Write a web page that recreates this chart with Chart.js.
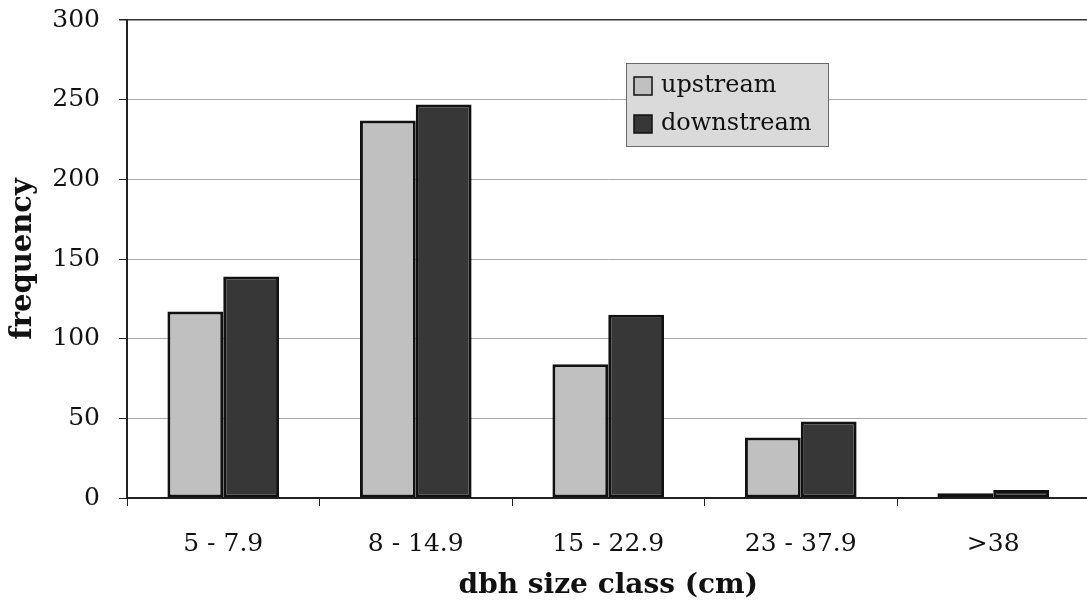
<!DOCTYPE html>
<html>
<head>
<meta charset="utf-8">
<script src="https://cdn.jsdelivr.net/npm/chart.js@4/dist/chart.umd.min.js"></script>
<style>
  html, body { margin: 0; padding: 0; background: #fff; overflow: hidden; }
  #wrap { width: 1092px; height: 611px; }
</style>
</head>
<body>
<div id="wrap"><canvas id="c" width="1092" height="611"></canvas></div>
<script>
// Tree diameter (dbh) size classes and counts per reach
const sizeClasses = ['5 - 7.9', '8 - 14.9', '15 - 22.9', '23 - 37.9', '>38'];
const upstream   = [117, 237, 84, 38, 3];
const downstream = [139, 247, 115, 48, 5];
const seriesNames = ['upstream', 'downstream'];
const yTicks = [0, 50, 100, 150, 200, 250, 300];

const SERIF = '"DejaVu Serif", "Liberation Serif", serif';
const upFill = '#c0c0c0';
const downFill = '#373737';

// Boxed legend drawn inside the plot area
const boxLegend = {
  id: 'boxLegend',
  afterDraw(chart, args, opts) {
    const ctx = chart.ctx;
    ctx.save();
    ctx.fillStyle = '#dadada';
    ctx.strokeStyle = '#6a6a6a';
    ctx.lineWidth = 1;
    ctx.fillRect(opts.x, opts.y, opts.w, opts.h);
    ctx.strokeRect(opts.x + 0.5, opts.y + 0.5, opts.w, opts.h);
    ctx.font = opts.font;
    ctx.textBaseline = 'middle';
    ctx.textAlign = 'left';
    chart.data.datasets.forEach((ds, i) => {
      const cy = opts.y + opts.firstRow + i * opts.rowGap;
      ctx.fillStyle = ds.backgroundColor;
      ctx.fillRect(opts.x + 8, cy - 9, 18, 18);
      ctx.strokeStyle = '#111';
      ctx.lineWidth = 1.5;
      ctx.strokeRect(opts.x + 8, cy - 9, 18, 18);
      ctx.fillStyle = '#111';
      ctx.fillText(ds.label, opts.x + 35, cy);
    });
    ctx.restore();
  }
};

new Chart(document.getElementById('c'), {
  type: 'bar',
  data: {
    labels: sizeClasses,
    datasets: [
      { label: seriesNames[0], data: upstream, backgroundColor: upFill,
        borderColor: '#111', borderWidth: 3, borderSkipped: false },
      { label: seriesNames[1], data: downstream, backgroundColor: downFill,
        borderColor: '#111', borderWidth: 3, borderSkipped: false }
    ]
  },
  plugins: [boxLegend],
  options: {
    responsive: false,
    animation: false,
    devicePixelRatio: 1,
    layout: { padding: { top: 20, right: 2.5, left: 0, bottom: 0 } },
    datasets: { bar: { barPercentage: 1.0, categoryPercentage: 0.58 } },
    plugins: {
      legend: { display: false },
      tooltip: { enabled: false },
      boxLegend: { x: 626, y: 63, w: 202, h: 83, firstRow: 23, rowGap: 38,
                   font: '24px ' + SERIF }
    },
    scales: {
      x: {
        offset: true,
        afterFit(scale) {
          scale.height = 113;
          scale.paddingLeft = 0; scale.paddingRight = 0;
        },
        grid: { display: true, drawOnChartArea: false, drawTicks: true,
                tickLength: 8, tickColor: '#222', offset: true },
        border: { display: true, color: '#222', width: 2 },
        ticks: { color: '#111', padding: 23, font: { family: SERIF, size: 25 } },
        title: { display: true, text: 'dbh size class (cm)', color: '#111',
                 padding: { top: 0, bottom: 8 },
                 font: { family: SERIF, size: 28, weight: 'bold' } }
      },
      y: {
        min: 0, max: 300,
        afterFit(scale) {
          scale.width = 127;
          scale.paddingTop = 0; scale.paddingBottom = 0;
        },
        afterBuildTicks(scale) { scale.ticks = yTicks.map(v => ({ value: v })); },
        grid: {
          color: ctx => (ctx.tick && ctx.tick.value === 300) ? '#333' : '#a8a8a8',
          lineWidth: ctx => (ctx.tick && ctx.tick.value === 300) ? 1.5 : 1,
          drawTicks: true, tickLength: 8, tickColor: '#222'
        },
        border: { display: true, color: '#222', width: 2 },
        ticks: { color: '#111', padding: 19, font: { family: SERIF, size: 25 } },
        title: { display: true, text: 'frequency', color: '#111',
                 padding: { top: 6, bottom: 0 },
                 font: { family: SERIF, size: 29, weight: 'bold' } }
      }
    }
  }
});
</script>
</body>
</html>
